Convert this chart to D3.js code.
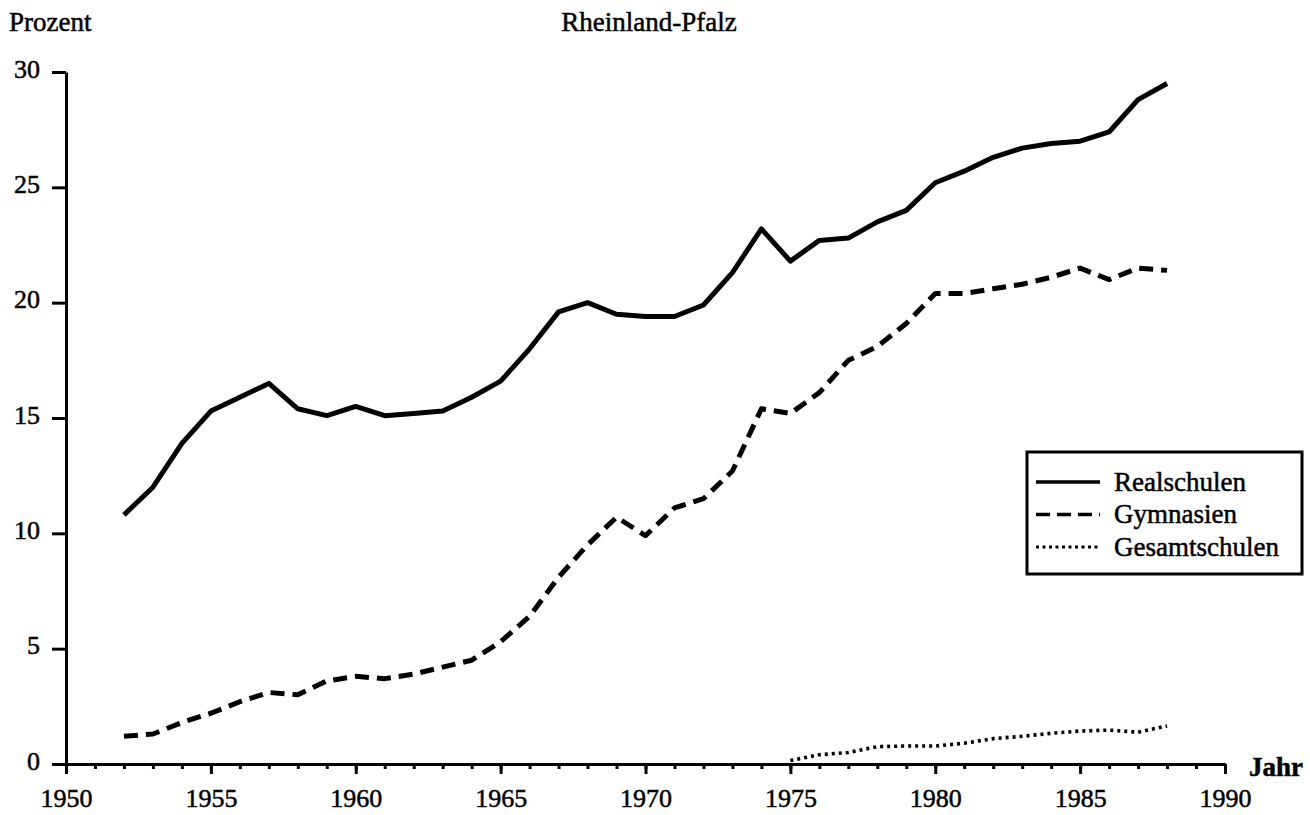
<!DOCTYPE html>
<html>
<head>
<meta charset="utf-8">
<script src="https://d3js.org/d3.v7.min.js"></script>
<style>
  body { margin:0; background:#fff; }
  svg text { font-family:"Liberation Serif", "Times New Roman", serif; fill:#000; stroke:#000; stroke-width:0.5px; }
</style>
</head>
<body>
<div id="chart"></div>
<script>
// Anteil der Schüler (Prozent) in Rheinland-Pfalz
var years = d3.range(1952, 1989);
var realschulen = [10.8, 12.0, 13.9, 15.3, 15.9, 16.5, 15.4, 15.1, 15.5, 15.1, 15.2, 15.3, 15.9, 16.6,
                   18.0, 19.6, 20.0, 19.5, 19.4, 19.4, 19.9, 21.3, 23.2, 21.8, 22.7, 22.8, 23.5, 24.0,
                   25.2, 25.7, 26.3, 26.7, 26.9, 27.0, 27.4, 28.8, 29.5];
var gymnasien = [1.2, 1.3, 1.8, 2.2, 2.7, 3.1, 3.0, 3.6, 3.8, 3.7, 3.9, 4.2, 4.5, 5.3,
                 6.4, 8.1, 9.5, 10.7, 9.9, 11.1, 11.5, 12.7, 15.4, 15.2, 16.1, 17.5, 18.1, 19.1,
                 20.4, 20.4, 20.6, 20.8, 21.1, 21.5, 21.0, 21.5, 21.4];
var gesamtYears = d3.range(1975, 1989);
var gesamtschulen = [0.15, 0.4, 0.5, 0.75, 0.78, 0.78, 0.9, 1.1, 1.2, 1.33, 1.43, 1.47, 1.38, 1.65];
var xTicks = [1950, 1955, 1960, 1965, 1970, 1975, 1980, 1985, 1990];
var yTicks = [0, 5, 10, 15, 20, 25, 30];
var seriesNames = ["Realschulen", "Gymnasien", "Gesamtschulen"];

const W = 1310, H = 815;
const svg = d3.select("#chart").append("svg").attr("width", W).attr("height", H);

var x = d3.scaleLinear().domain([1950, 1990]).range([66, 1225]);
var y = d3.scaleLinear().domain([0, 30]).range([764, 72]);

// x axis: minor ticks every year, major every 5
var xMinor = d3.axisBottom(x).tickValues(d3.range(1950, 1991)).tickSize(5).tickFormat("").tickSizeOuter(0);
svg.append("g").attr("class", "xminor").attr("transform", "translate(0,764)").call(xMinor);
var xAxis = d3.axisBottom(x).tickValues(xTicks).tickSize(10).tickPadding(13).tickFormat(d3.format("d")).tickSizeOuter(0);
svg.append("g").attr("class", "xaxis").attr("transform", "translate(0,764)").call(xAxis);

var yAxis = d3.axisLeft(y).tickValues(yTicks).tickSize(14).tickPadding(12).tickSizeOuter(0);
svg.append("g").attr("class", "yaxis").attr("transform", "translate(66,0)").call(yAxis);

svg.selectAll(".xminor path, .xaxis path, .yaxis path").attr("stroke", "#000").attr("stroke-width", 3);
svg.selectAll(".xminor line, .xaxis line, .yaxis line").attr("stroke", "#000").attr("stroke-width", 3);
svg.selectAll(".xaxis text").style("font-size", "26px").attr("dy", "0.75em");
svg.selectAll(".yaxis text").style("font-size", "26px").attr("dy", "0.2em");

// Titel und Achsenbeschriftungen
svg.append("text").attr("x", 649).attr("y", 31).attr("text-anchor", "middle")
  .style("font-size", "27px").text("Rheinland-Pfalz");
svg.append("text").attr("x", 9).attr("y", 31).style("font-size", "27px").text("Prozent");
svg.append("text").attr("x", 1249).attr("y", 776).style("font-size", "27px").style("font-weight", "bold").text("Jahr");

var line = d3.line().x(d => x(d[0])).y(d => y(d[1]));
var styles = [
  {w: 5, dash: null},
  {w: 5, dash: "14,8"},
  {w: 3.6, dash: "3,4"}
];
var data = [
  years.map((yr, i) => [yr, realschulen[i]]),
  years.map((yr, i) => [yr, gymnasien[i]]),
  gesamtYears.map((yr, i) => [yr, gesamtschulen[i]])
];
data.forEach(function(d, i) {
  svg.append("path").datum(d)
    .attr("d", line)
    .attr("fill", "none")
    .attr("stroke", "#000")
    .attr("stroke-width", styles[i].w)
    .attr("stroke-dasharray", styles[i].dash)
    .attr("stroke-linejoin", "round");
});

// Legende
var legend = svg.append("g");
legend.append("rect").attr("x", 1027).attr("y", 452).attr("width", 275).attr("height", 122)
  .attr("fill", "#fff").attr("stroke", "#000").attr("stroke-width", 3);
seriesNames.forEach(function(name, i) {
  var ly = 482 + i * 32.5;
  legend.append("line").attr("x1", 1036).attr("x2", 1100).attr("y1", ly).attr("y2", ly)
    .attr("stroke", "#000").attr("stroke-width", i == 2 ? 3 : 3.5)
    .attr("stroke-dasharray", i == 0 ? null : (i == 1 ? "14,7" : "3,3.5"));
  legend.append("text").attr("x", 1114).attr("y", ly).attr("dy", "0.33em")
    .style("font-size", "27px").text(name);
});
</script>
</body>
</html>
